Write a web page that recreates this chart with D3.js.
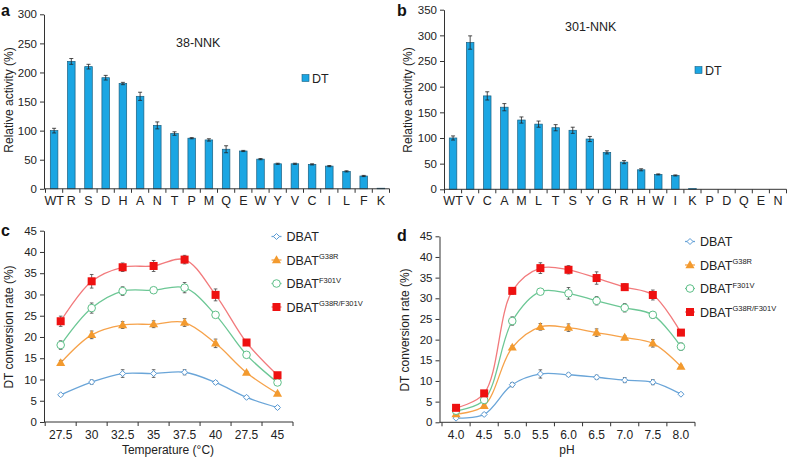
<!DOCTYPE html>
<html><head><meta charset="utf-8">
<script src="https://cdn.jsdelivr.net/npm/d3@7"></script>
<style>
body{margin:0;background:#fff;}
svg{font-family:"Liberation Sans",Arial,sans-serif;}
</style></head>
<body><svg id="c" width="788" height="457"></svg>
<script>
// ---- Data ----
const catsA = ["WT","R","S","D","H","A","N","T","P","M","Q","E","W","Y","V","C","I","L","F","K"];
const valsA = [100,219,210,191,181,159,109,95,87,84,68,65,51,43,43,42,39,30,22,1];
const errA  = [4,5,4,4,2,7,6,3,1,2,6,1,1,1,1,1,1,1,1,0];
const ticksA = [0,50,100,150,200,250,300];

const catsB = ["WT","V","C","A","M","L","T","S","Y","G","R","H","W","I","K","P","D","Q","E","N"];
const valsB = [100,286,182,160,135,127,120,115,98,72,53,38,29,27,1.3,0,0,0,0,0];
const errB  = [4,13,8,7,6,6,6,6,5,3,3,2,1,1,0,0,0,0,0,0];
const ticksB = [0,50,100,150,200,250,300,350];

const seriesNames = ["DBAT","DBAT","DBAT","DBAT"];
const seriesSup = ["","G38R","F301V","G38R/F301V"];

const catsC = ["27.5","30","32.5","35","37.5","40","27.5 ","45"];
const blueC   = [6.4,9.4,11.4,11.4,11.7,9.3,5.8,3.4];
const orangeC = [13.9,20.5,22.8,23.0,23.4,18.5,11.6,6.7];
const greenC  = [18.1,26.8,30.8,31.0,31.6,25.2,15.8,9.3];
const redC    = [23.7,33.1,36.4,36.7,38.2,29.9,18.7,11.0];
const blueCErr   = [0.3,0.5,0.9,0.9,0.6,0.4,0.3,0.3];
const orangeCErr = [0.6,0.9,0.8,0.8,0.9,1.0,0.3,0.3];
const greenCErr  = [1.0,1.2,1.0,0.6,1.2,0.6,0.6,0.5];
const redCErr    = [1.2,1.6,1.0,1.3,1.0,1.4,0.3,0.3];

const catsD = ["4.0","4.5","5.0","5.5","6.0","6.5","7.0","7.5","8.0"];
const blueD   = [1.0,1.9,9.1,11.7,11.5,10.9,10.2,9.7,6.8];
const orangeD = [2.0,4.0,18.1,23.1,22.9,21.7,20.5,19.1,13.5];
const greenD  = [2.8,5.4,24.5,31.6,31.2,29.4,27.7,26.0,18.3];
const redD    = [3.5,7.0,31.8,37.3,36.9,34.9,32.7,30.8,21.7];
const blueDErr   = [0.3,0.3,0.5,1.0,0.4,0.5,0.6,0.6,0.3];
const orangeDErr = [0.3,0.3,0.4,0.8,0.9,0.9,0.4,0.9,0.3];
const greenDErr  = [0.3,0.3,1.0,0.6,1.4,1.0,1.0,0.8,0.9];
const redDErr    = [0.3,0.3,0.8,1.3,1.0,1.5,0.8,1.2,0.3];
const ticksCD = [0,5,10,15,20,25,30,35,40,45];

// ---- Styles ----
const barFill = "#1ba6e3", barStroke = "#1a5f80";
const lineCols = ["#6aa5d8","#f6a24a","#6cc795","#f27a7c"];
const markCols = ["#5b9bd5","#f39a2e","#5ebf88","#ee1111"];
const axisCol = "#333";
const svg = d3.select("#c");

function yAxis(g, y, x0, ticks){
  const ax = g.append("g").attr("transform",`translate(${x0},0)`)
    .call(d3.axisLeft(y).tickValues(ticks).tickSize(4).tickSizeOuter(0).tickFormat(d=>d));
  ax.select(".domain").attr("stroke",axisCol);
  ax.selectAll(".tick line").attr("stroke",axisCol);
  ax.selectAll("text").attr("font-size",11.5).attr("fill","#222").attr("x",-7);
}
function xAxis(g, x, y0, x0, fs, dy){
  const r = x.range();
  g.append("line").attr("x1",x0).attr("x2",r[1]).attr("y1",y0).attr("y2",y0).attr("stroke",axisCol);
  const n = x.domain().length;
  for(let i=0;i<=n;i++){
    const xx = r[0] + i*x.step();
    g.append("line").attr("x1",xx).attr("x2",xx).attr("y1",y0).attr("y2",y0+4).attr("stroke",axisCol);
  }
  g.selectAll(null).data(x.domain()).enter().append("text")
    .attr("x",d=>x(d)+x.bandwidth()/2).attr("y",y0+dy).attr("text-anchor","middle")
    .attr("font-size",fs).attr("fill","#222").text(d=>d.trim());
}
function ylabel(text, x, y){
  svg.append("text").attr("transform",`translate(${x},${y}) rotate(-90)`).attr("text-anchor","middle")
    .attr("font-size",12).attr("fill","#222").text(text);
}
function panelLetter(t,x,y){
  svg.append("text").attr("x",x).attr("y",y).attr("font-size",16).attr("font-weight","bold").attr("fill","#111").text(t);
}

function barPanel(cats, vals, errs, ticks, xr, yr, axX, title, tpos, lpos){
  const g = svg.append("g");
  const x = d3.scaleBand().domain(cats).range(xr).paddingInner(0).paddingOuter(0);
  const y = d3.scaleLinear().domain([0, ticks[ticks.length-1]]).range(yr);
  const bw = x.step()*0.44;
  g.selectAll(null).data(vals).enter().append("rect")
    .attr("x",(d,i)=>x(cats[i])+x.step()/2-bw/2).attr("width",bw)
    .attr("y",d=>y(d)).attr("height",d=>y(0)-y(d))
    .attr("fill",barFill).attr("stroke",barStroke).attr("stroke-width",0.7);
  vals.forEach((v,i)=>{
    if(errs[i]<=0) return;
    const cx = x(cats[i])+x.step()/2;
    g.append("line").attr("x1",cx).attr("x2",cx).attr("y1",y(v+errs[i])).attr("y2",y(v-errs[i])).attr("stroke","#222").attr("stroke-width",0.8);
    [v+errs[i],v-errs[i]].forEach(e=>g.append("line").attr("x1",cx-2).attr("x2",cx+2).attr("y1",y(e)).attr("y2",y(e)).attr("stroke","#222").attr("stroke-width",0.8));
  });
  yAxis(g, y, axX, ticks);
  xAxis(g, x, y(0), axX, 12.5, 16);
  g.append("text").attr("x",tpos[0]).attr("y",tpos[1]).attr("font-size",12.5).attr("fill","#222").text(title);
  g.append("rect").attr("x",lpos[0]).attr("y",lpos[1]-3.5).attr("width",7).attr("height",7).attr("fill",barFill).attr("stroke",barStroke).attr("stroke-width",0.6);
  g.append("text").attr("x",lpos[0]+10).attr("y",lpos[1]+4.5).attr("font-size",12.5).attr("fill","#222").text("DT");
}

function marker(g, type, cx, cy){
  const c = markCols[type];
  if(type===0){
    g.append("path").attr("d",`M${cx},${cy-3}L${cx+3},${cy}L${cx},${cy+3}L${cx-3},${cy}Z`).attr("fill","#fff").attr("stroke",c).attr("stroke-width",1);
  } else if(type===1){
    g.append("path").attr("d",d3.symbol(d3.symbolTriangle,36)()).attr("transform",`translate(${cx},${cy+0.5})`).attr("fill",c);
  } else if(type===2){
    g.append("circle").attr("cx",cx).attr("cy",cy).attr("r",3.8).attr("fill","#fff").attr("stroke",c).attr("stroke-width",1);
  } else {
    g.append("rect").attr("x",cx-4).attr("y",cy-4).attr("width",8).attr("height",8).attr("fill",c);
  }
}

function linePanel(cats, series, errs, xr, yr, axX, xlab, xlabPos, legPos){
  const g = svg.append("g");
  const x = d3.scaleBand().domain(cats).range(xr);
  const y = d3.scaleLinear().domain([0,45]).range(yr);
  const cx = c => x(c)+x.bandwidth()/2;
  const line = d3.line().x((d,i)=>cx(cats[i])).y(d=>y(d)).curve(d3.curveCatmullRom.alpha(0.5));
  series.forEach((s,k)=>{
    g.append("path").attr("d",line(s)).attr("fill","none").attr("stroke",lineCols[k]).attr("stroke-width",1.3);
  });
  series.forEach((s,k)=>{
    s.forEach((v,i)=>{
      const e = errs[k][i], px = cx(cats[i]);
      g.append("line").attr("x1",px).attr("x2",px).attr("y1",y(v+e)).attr("y2",y(v-e)).attr("stroke","#444").attr("stroke-width",0.8);
      [v+e,v-e].forEach(ee=>g.append("line").attr("x1",px-1.8).attr("x2",px+1.8).attr("y1",y(ee)).attr("y2",y(ee)).attr("stroke","#444").attr("stroke-width",0.8));
    });
  });
  series.forEach((s,k)=>{
    s.forEach((v,i)=>marker(g,k,cx(cats[i]),y(v)));
  });
  yAxis(g, y, axX, ticksCD);
  xAxis(g, x, y(0), axX, 12, 17);
  g.append("text").attr("x",xlabPos[0]).attr("y",xlabPos[1]).attr("text-anchor","middle").attr("font-size",12).attr("fill","#222").text(xlab);
  // legend
  seriesNames.forEach((n,k)=>{
    const ly = legPos[1] + k*23.5;
    g.append("line").attr("x1",legPos[0]-5).attr("x2",legPos[0]+5).attr("y1",ly).attr("y2",ly).attr("stroke",lineCols[k]).attr("stroke-width",1.3);
    marker(g,k,legPos[0],ly);
    const t = g.append("text").attr("x",legPos[0]+10).attr("y",ly+4.5).attr("font-size",12.5).attr("fill","#222").text(n);
    if(seriesSup[k]) t.append("tspan").attr("font-size",7.5).attr("dy",-5.5).text(seriesSup[k]);
  });
}

barPanel(catsA, valsA, errA, ticksA, [45.5,389.5], [188.8,14.3], 44, "38-NNK", [176,47], [302,78]);
barPanel(catsB, valsB, errB, ticksB, [444.5,786.5], [189.3,9.7], 444, "301-NNK", [565,31], [695,70]);
linePanel(catsC, [blueC,orangeC,greenC,redC], [blueCErr,orangeCErr,greenCErr,redCErr],
  [45.2,293], [422,230.7], 44, "Temperature (°C)", [168,454], [276.5,236.5]);
linePanel(catsD, [blueD,orangeD,greenD,redD], [blueDErr,orangeDErr,greenDErr,redDErr],
  [442,695], [422.3,236.3], 439.5, "pH", [567,454], [690,241.5]);

ylabel("Relative activity (%)", 13, 100);
ylabel("Relative activity (%)", 412, 100);
ylabel("DT conversion rate (%)", 13, 327);
ylabel("DT conversion rate (%)", 409, 330);
panelLetter("a",1,16);
panelLetter("b",397,16);
panelLetter("c",1,236);
panelLetter("d",397,241);
</script></body></html>
